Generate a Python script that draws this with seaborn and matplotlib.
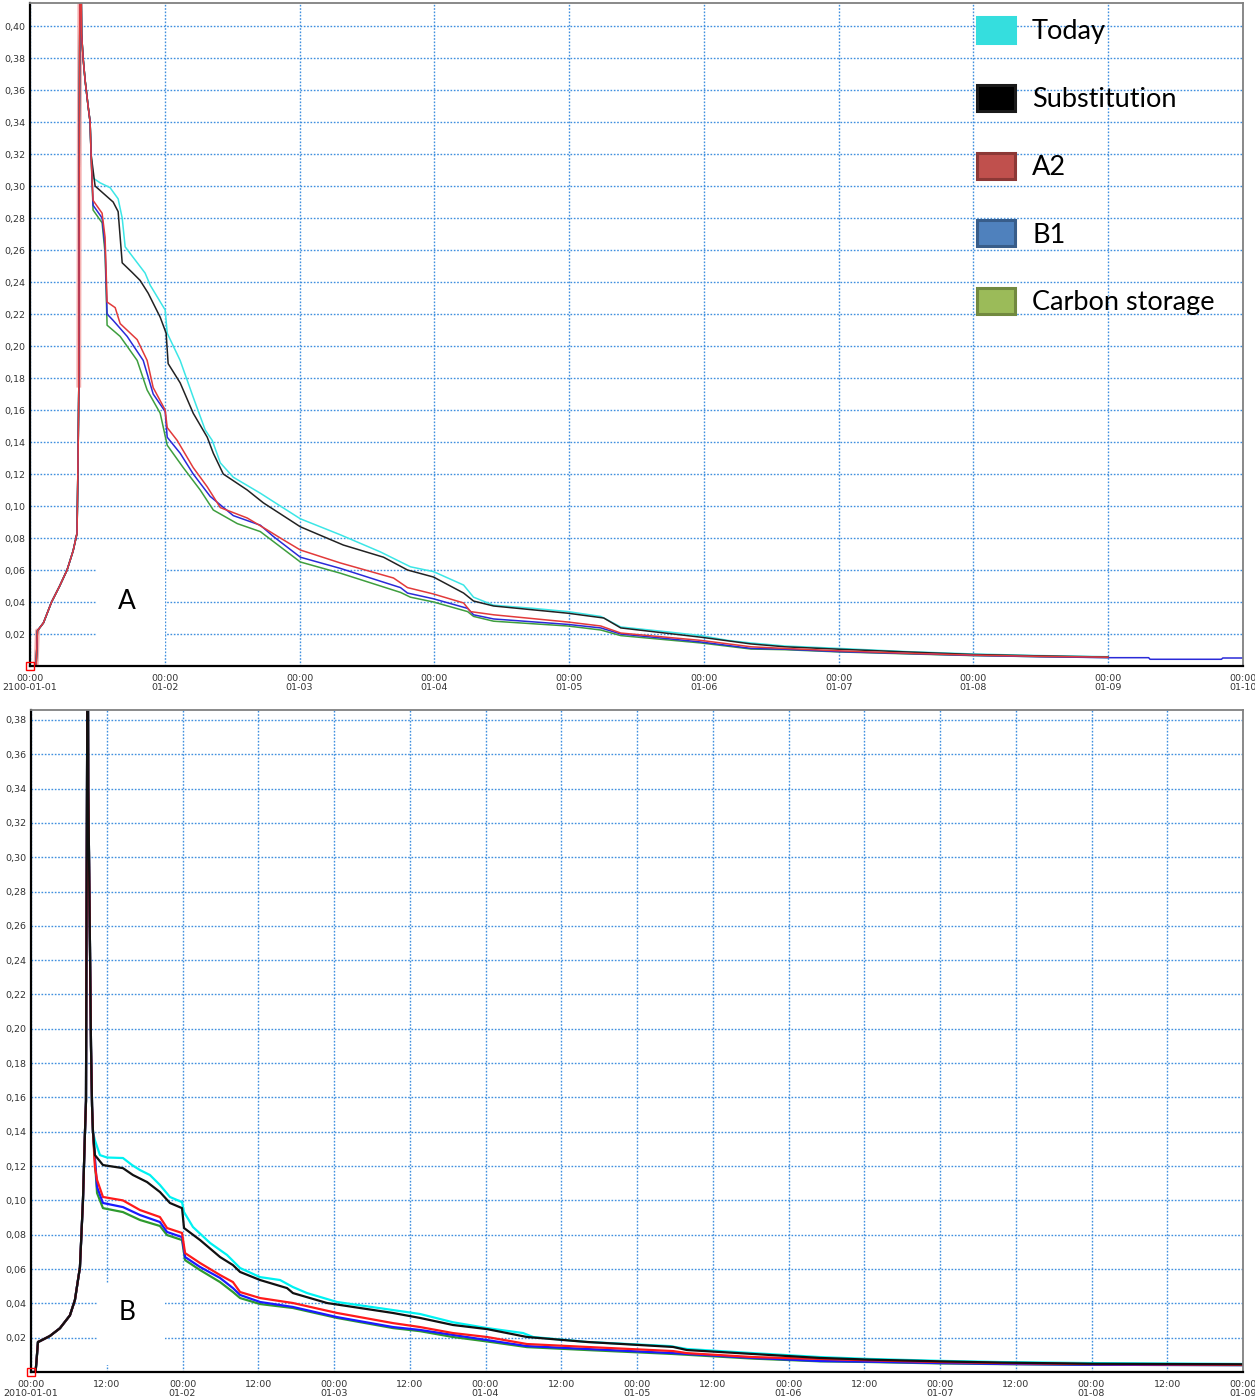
import matplotlib
matplotlib.use("Agg")
import matplotlib.pyplot as plt
import numpy as np
import pandas as pd
import seaborn as sns
from matplotlib.patches import Patch, Rectangle
from matplotlib.ticker import MultipleLocator

sns.set_style("white")
plt.rcParams["font.family"] = ["DejaVu Sans"]

# ---------------- Panel A (2100) ----------------
A_rise_t = [0.0, 0.045, 0.050, 0.055, 0.10, 0.16, 0.22, 0.275, 0.32, 0.349, 0.357, 0.362, 0.366, 0.371,
            0.379, 0.383, 0.394, 0.409, 0.431, 0.446, 0.453]
A_rise_v = [0.0, 0.0, 0.010, 0.022, 0.027, 0.040, 0.050, 0.060, 0.072, 0.083, 0.133, 0.174, 0.340, 0.430,
            0.430, 0.395, 0.380, 0.366, 0.350, 0.340, 0.320]

A_today_t = [0.468, 0.520, 0.594, 0.654, 0.684, 0.706, 0.854, 0.892, 1.003, 1.018, 1.114, 1.211, 1.300, 1.352,
             1.412, 1.508, 1.709, 1.857, 2.006, 2.303, 2.600, 2.823, 2.994, 3.217, 3.291, 3.440, 3.737, 3.990,
             4.235, 4.383, 4.733, 4.978, 5.178, 5.349, 5.600, 6.000, 6.500, 7.000, 7.500, 8.000]
A_today_v = [0.305, 0.302, 0.299, 0.292, 0.280, 0.262, 0.2456, 0.238, 0.2225, 0.208, 0.191, 0.168, 0.1475, 0.141,
             0.127, 0.118, 0.108, 0.100, 0.092, 0.082, 0.0713, 0.062, 0.059, 0.0506, 0.043, 0.038, 0.036, 0.034,
             0.031, 0.0244, 0.0213, 0.019, 0.016, 0.0144, 0.0125, 0.011, 0.009, 0.0075, 0.0065, 0.0058]

A_sub_t = [0.483, 0.617, 0.654, 0.684, 0.758, 0.817, 0.877, 0.966, 1.010, 1.025, 1.114, 1.211, 1.315, 1.360,
           1.434, 1.612, 1.731, 2.006, 2.325, 2.623, 2.801, 2.994, 3.217, 3.291, 3.440, 3.990, 4.257, 4.383,
           4.978, 5.349, 5.600, 6.000, 6.500, 7.000, 7.500, 8.000]
A_sub_v = [0.300, 0.290, 0.284, 0.252, 0.246, 0.241, 0.233, 0.218, 0.208, 0.189, 0.177, 0.158, 0.143, 0.133,
           0.120, 0.110, 0.102, 0.087, 0.0756, 0.068, 0.060, 0.0556, 0.0456, 0.0406, 0.0375, 0.033, 0.030, 0.0238,
           0.018, 0.0138, 0.012, 0.0105, 0.0088, 0.0072, 0.0063, 0.0056]

A_a2_t = [0.468, 0.535, 0.557, 0.572, 0.632, 0.669, 0.795, 0.869, 0.914, 1.003, 1.018, 1.092, 1.211, 1.315,
          1.412, 1.612, 1.761, 1.857, 2.006, 2.303, 2.697, 2.801, 2.994, 3.217, 3.269, 3.440, 3.990, 4.235,
          4.383, 4.978, 5.349, 5.600, 6.000, 6.500, 7.000, 7.500, 8.000]
A_a2_v = [0.291, 0.283, 0.268, 0.2275, 0.224, 0.214, 0.204, 0.191, 0.174, 0.160, 0.149, 0.141, 0.124, 0.112,
          0.099, 0.0925, 0.085, 0.080, 0.0725, 0.0644, 0.055, 0.049, 0.045, 0.0394, 0.034, 0.032, 0.0275, 0.025,
          0.0206, 0.016, 0.012, 0.011, 0.0095, 0.008, 0.0068, 0.006, 0.0055]

A_b1_t = [0.468, 0.535, 0.557, 0.572, 0.617, 0.721, 0.840, 0.914, 1.003, 1.018, 1.114, 1.211, 1.337, 1.508,
          1.709, 1.805, 2.006, 2.303, 2.749, 2.801, 2.994, 3.247, 3.291, 3.440, 3.990, 4.235, 4.383, 4.978,
          5.349, 5.600, 6.000, 6.500, 7.000, 7.500, 8.000, 8.300, 8.310, 8.840, 8.850, 9.000]
A_b1_v = [0.288, 0.280, 0.262, 0.220, 0.216, 0.206, 0.191, 0.170, 0.159, 0.143, 0.133, 0.120, 0.106, 0.094,
          0.088, 0.081, 0.068, 0.061, 0.049, 0.0456, 0.042, 0.036, 0.032, 0.0294, 0.026, 0.0238, 0.020, 0.015,
          0.011, 0.0105, 0.009, 0.0078, 0.0066, 0.0058, 0.0052, 0.0052, 0.0042, 0.0042, 0.0050, 0.0050]

A_cs_t = [0.468, 0.535, 0.557, 0.572, 0.669, 0.795, 0.869, 0.966, 1.018, 1.137, 1.263, 1.360, 1.538, 1.709,
          2.006, 2.303, 2.749, 2.823, 2.994, 3.247, 3.291, 3.440, 3.990, 4.235, 4.383, 4.978, 5.349, 5.600,
          6.000, 6.500, 7.000, 7.500, 8.000]
A_cs_v = [0.285, 0.277, 0.258, 0.213, 0.206, 0.191, 0.1725, 0.158, 0.138, 0.124, 0.110, 0.0975, 0.089, 0.084,
          0.065, 0.058, 0.046, 0.043, 0.040, 0.034, 0.031, 0.028, 0.025, 0.0225, 0.019, 0.0144, 0.0106, 0.0102,
          0.0088, 0.0076, 0.0065, 0.0058, 0.0053]

A_xticks = [0, 1, 2, 3, 4, 5, 6, 7, 8, 9]
A_xlabels = ["00:00\n2100-01-01", "00:00\n01-02", "00:00\n01-03", "00:00\n01-04", "00:00\n01-05",
             "00:00\n01-06", "00:00\n01-07", "00:00\n01-08", "00:00\n01-09", "00:00\n01-10"]
A_yticks = [0.02, 0.04, 0.06, 0.08, 0.10, 0.12, 0.14, 0.16, 0.18, 0.20, 0.22, 0.24, 0.26, 0.28, 0.30,
            0.32, 0.34, 0.36, 0.38, 0.40]

# ---------------- Panel B (2010) ----------------
B_rise_t = [0.0, 0.030, 0.036, 0.046, 0.059, 0.125, 0.191, 0.257, 0.290, 0.323, 0.343, 0.356, 0.363, 0.366,
            0.372, 0.376, 0.378, 0.383, 0.389, 0.396, 0.403, 0.409]
B_rise_v = [0.0, 0.0, 0.006, 0.0175, 0.018, 0.021, 0.0255, 0.033, 0.042, 0.061, 0.100, 0.139, 0.158, 0.250,
            0.400, 0.400, 0.340, 0.300, 0.250, 0.190, 0.155, 0.140]

B_today_t = [0.422, 0.455, 0.502, 0.607, 0.667, 0.719, 0.785, 0.851, 0.917, 0.997, 1.010, 1.069, 1.182, 1.294,
             1.380, 1.512, 1.644, 1.729, 1.822, 2.020, 2.389, 2.568, 2.785, 3.010, 3.248, 3.314, 3.670, 4.218,
             4.330, 4.766, 5.208, 5.538, 6.000, 6.400, 7.000, 8.000]
B_today_v = [0.135, 0.1264, 0.125, 0.1247, 0.1206, 0.1177, 0.1148, 0.109, 0.102, 0.099, 0.0932, 0.0845, 0.0752,
             0.0682, 0.0606, 0.0553, 0.0536, 0.0495, 0.046, 0.0408, 0.0361, 0.0338, 0.029, 0.0256, 0.0227, 0.0204,
             0.0175, 0.0151, 0.0134, 0.011, 0.0087, 0.0076, 0.0065, 0.0058, 0.0052, 0.0047]

B_sub_t = [0.422, 0.475, 0.607, 0.673, 0.766, 0.851, 0.917, 0.997, 1.010, 1.116, 1.248, 1.333, 1.380, 1.512,
           1.690, 1.729, 1.954, 2.389, 2.568, 2.785, 3.010, 3.274, 3.670, 4.238, 4.330, 4.766, 5.208, 5.538,
           6.000, 6.400, 7.000, 8.000]
B_sub_v = [0.1264, 0.1206, 0.1188, 0.1148, 0.1107, 0.1049, 0.0985, 0.0955, 0.0839, 0.0769, 0.067, 0.0623, 0.0583,
           0.0536, 0.0489, 0.046, 0.0402, 0.0344, 0.0315, 0.0274, 0.025, 0.0204, 0.0175, 0.0146, 0.0128, 0.0105,
           0.0082, 0.0072, 0.0062, 0.0055, 0.0048, 0.0045]

B_a2_t = [0.422, 0.436, 0.475, 0.607, 0.719, 0.851, 0.898, 0.997, 1.017, 1.116, 1.248, 1.333, 1.380, 1.512,
          1.729, 2.020, 2.389, 2.568, 2.785, 3.010, 3.274, 3.670, 4.238, 4.330, 4.766, 5.208, 5.538, 6.000,
          6.400, 7.000, 8.000]
B_a2_v = [0.1194, 0.1119, 0.102, 0.100, 0.0944, 0.0903, 0.0839, 0.081, 0.0693, 0.0635, 0.0565, 0.0524, 0.0466,
          0.0431, 0.0402, 0.0344, 0.0285, 0.0262, 0.0227, 0.0204, 0.0163, 0.0146, 0.0122, 0.011, 0.0087, 0.0076,
          0.0068, 0.0058, 0.0052, 0.0046, 0.0042]

B_b1_t = [0.436, 0.475, 0.607, 0.719, 0.851, 0.898, 0.997, 1.017, 1.116, 1.248, 1.333, 1.380, 1.512, 1.729,
          2.020, 2.389, 2.568, 2.785, 3.010, 3.274, 3.670, 4.238, 4.766, 5.208, 5.538, 6.000, 6.400, 7.000, 8.000]
B_b1_v = [0.1078, 0.0985, 0.0961, 0.0915, 0.0874, 0.0816, 0.0786, 0.067, 0.0612, 0.0548, 0.0489, 0.0449, 0.0408,
          0.0379, 0.032, 0.0262, 0.0245, 0.0216, 0.0186, 0.0151, 0.0134, 0.011, 0.0082, 0.0064, 0.006, 0.0052,
          0.0047, 0.0042, 0.004]

B_cs_t = [0.436, 0.475, 0.607, 0.719, 0.851, 0.898, 0.997, 1.017, 1.116, 1.248, 1.333, 1.380, 1.512, 1.729,
          2.020, 2.389, 2.568, 2.785, 3.010, 3.274, 3.670, 4.238, 4.766, 5.208, 5.538, 6.000, 6.400, 7.000, 8.000]
B_cs_v = [0.1043, 0.0955, 0.0932, 0.0886, 0.0851, 0.0798, 0.0769, 0.0652, 0.0594, 0.0524, 0.0466, 0.0431, 0.0396,
          0.0373, 0.0315, 0.0256, 0.0238, 0.0204, 0.0178, 0.0145, 0.0128, 0.0105, 0.0078, 0.0062, 0.0058, 0.005,
          0.0046, 0.0042, 0.004]

B_xticks = [0, 0.5, 1, 1.5, 2, 2.5, 3, 3.5, 4, 4.5, 5, 5.5, 6, 6.5, 7, 7.5, 8]
B_xlabels = ["00:00\n2010-01-01", "12:00", "00:00\n01-02", "12:00", "00:00\n01-03", "12:00", "00:00\n01-04",
             "12:00", "00:00\n01-05", "12:00", "00:00\n01-06", "12:00", "00:00\n01-07", "12:00", "00:00\n01-08",
             "12:00", "00:00\n01-09"]
B_yticks = [0.02, 0.04, 0.06, 0.08, 0.10, 0.12, 0.14, 0.16, 0.18, 0.20, 0.22, 0.24, 0.26, 0.28, 0.30,
            0.32, 0.34, 0.36, 0.38]

scenarios = ["Today", "Substitution", "A2", "B1", "Carbon storage"]
legend_fill = ["#35DEDE", "#000000", "#C0504D", "#4F81BD", "#9BBB59"]
legend_edge = ["#35DEDE", "#1A1A1A", "#8C3836", "#385D8A", "#71893F"]

pal_A = {"Today": "#3CE6E6", "Substitution": "#222222", "A2": "#E23A3A", "B1": "#2A2AD8", "Carbon storage": "#3E9E3E"}
pal_B = {"Today": "#00F2F2", "Substitution": "#111111", "A2": "#FF1A1A", "B1": "#1A1AFF", "Carbon storage": "#2E9A2E"}


def long_df(rise_t, rise_v, tails):
    frames = []
    for name, (t, v) in tails.items():
        frames.append(pd.DataFrame({"t": list(rise_t) + list(t), "v": list(rise_v) + list(v), "scenario": name}))
    return pd.concat(frames, ignore_index=True)


df_A = long_df(A_rise_t, A_rise_v, {"Today": (A_today_t, A_today_v), "Substitution": (A_sub_t, A_sub_v),
                                    "A2": (A_a2_t, A_a2_v), "B1": (A_b1_t, A_b1_v),
                                    "Carbon storage": (A_cs_t, A_cs_v)})
df_B = long_df(B_rise_t, B_rise_v, {"Today": (B_today_t, B_today_v), "Substitution": (B_sub_t, B_sub_v),
                                    "A2": (B_a2_t, B_a2_v), "B1": (B_b1_t, B_b1_v),
                                    "Carbon storage": (B_cs_t, B_cs_v)})

W, H = 1255, 1398
fig = plt.figure(figsize=(W / 100, H / 100), dpi=100)
axA = fig.add_axes([30 / W, 1 - 666 / H, 1213 / W, 663 / H])
axB = fig.add_axes([31 / W, 1 - 1372 / H, 1212 / W, 662 / H])


def style(ax, xmax, ymax, xticks, xlabels, yticks, minor_x):
    ax.set_xlim(0, xmax)
    ax.set_ylim(0, ymax)
    ax.set_xticks(xticks)
    ax.set_xticklabels(xlabels, linespacing=1.0)
    ax.set_yticks(yticks)
    ax.set_yticklabels([f"{y:.2f}".replace(".", ",") for y in yticks])
    ax.xaxis.set_minor_locator(MultipleLocator(minor_x))
    ax.yaxis.set_minor_locator(MultipleLocator(0.004))
    ax.grid(True, which="major", color="#3f8fdf", linestyle=(0, (1.2, 1.2)), linewidth=1.0)
    ax.set_axisbelow(True)
    ax.tick_params(axis="x", which="both", direction="out", color="black", labelsize=6.8,
                   labelcolor="#333333", pad=2)
    ax.tick_params(axis="y", which="both", direction="in", color="black", labelsize=6.8,
                   labelcolor="#333333", pad=3)
    ax.tick_params(which="major", length=4, width=1)
    ax.tick_params(which="minor", length=2.5, width=0.8)
    for s in ["left", "bottom"]:
        ax.spines[s].set_color("black")
        ax.spines[s].set_linewidth(1.6)
    for s in ["top", "right"]:
        ax.spines[s].set_color("#808080")
        ax.spines[s].set_linewidth(1.3)
    ax.set_xlabel("")
    ax.set_ylabel("")


# Panel A lines
order_A = ["Today", "Substitution", "Carbon storage", "B1", "A2"]
axA.plot(A_rise_t[11:15], A_rise_v[11:15], color="#F4B0B0", lw=3.5, solid_capstyle="butt", zorder=1.5)
axA.plot(A_rise_t[1:4], A_rise_v[1:4], color="#F4B0B0", lw=3.5, zorder=1.5)
sns.lineplot(data=df_A, x="t", y="v", hue="scenario", hue_order=order_A, palette=pal_A,
             estimator=None, sort=False, legend=False, linewidth=1.1, ax=axA)
axA.plot([A_rise_t[0]], [A_rise_v[0]], marker="s", ms=6, mfc="none", mec="red", mew=1, clip_on=False, zorder=5)
style(axA, 9.0, 0.4144, A_xticks, A_xlabels, A_yticks, 1 / 12)

# Panel B lines
order_B = ["Today", "Carbon storage", "B1", "A2", "Substitution"]
sns.lineplot(data=df_B, x="t", y="v", hue="scenario", hue_order=order_B, palette=pal_B,
             estimator=None, sort=False, legend=False, linewidth=1.6, ax=axB)
axB.plot([B_rise_t[0]], [B_rise_v[0]], marker="s", ms=6, mfc="none", mec="red", mew=1, clip_on=False, zorder=5)
style(axB, 8.0, 0.3858, B_xticks, B_xlabels, B_yticks, 1 / 24)

# Panel labels with white boxes
axA.add_patch(Rectangle((0.0552, 0.0166), 0.0561, 0.145, transform=axA.transAxes,
                        facecolor="white", edgecolor="none", zorder=1))
axA.text(0.080, 0.098, "A", transform=axA.transAxes, ha="center", va="center",
         fontsize=19, color="black", family=["Lato", "DejaVu Sans"], zorder=3)
axB.add_patch(Rectangle((0.0545, 0.0106), 0.0561, 0.1238, transform=axB.transAxes,
                        facecolor="white", edgecolor="none", zorder=1))
axB.text(0.0792, 0.0906, "B", transform=axB.transAxes, ha="center", va="center",
         fontsize=19, color="black", family=["Lato", "DejaVu Sans"], zorder=3)

# Legend
handles = [Patch(facecolor=f, edgecolor=e, linewidth=2.2, label=l)
           for l, f, e in zip(scenarios, legend_fill, legend_edge)]
axA.legend(handles=handles, loc="upper left", bbox_to_anchor=(0.781, 0.979), frameon=False,
           prop={"family": "Lato", "size": 19.5}, labelcolor="black", handlelength=1.4, handleheight=1.1,
           labelspacing=1.5, handletextpad=0.62, borderaxespad=0, borderpad=0)

fig.savefig("out.png", dpi=100)
